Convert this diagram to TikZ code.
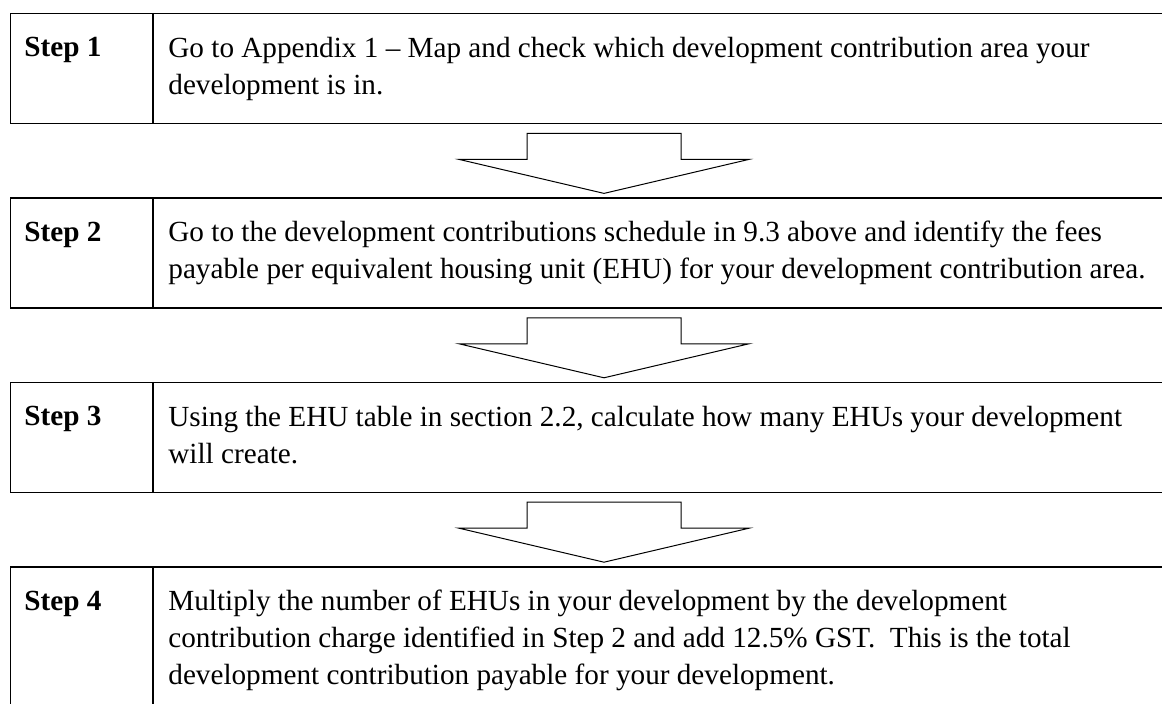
\documentclass[tikz,border=0pt]{standalone}
\usepackage{fontspec}
\setmainfont{Liberation Serif}
\usetikzlibrary{positioning}

\begin{document}
\begin{tikzpicture}[
  x=0.5pt, y=-0.5pt,
  node distance=36.5pt,
  stepbox/.style={rectangle, draw=black, line width=0.7pt, minimum width=585pt, minimum height=55pt, inner sep=0pt},
  steplabel/.style={anchor=base west, inner sep=0pt, font=\fontsize{14.6pt}{18.6pt}\selectfont\bfseries},
  steptext/.style={anchor=north west, inner sep=0pt, align=left, font=\fontsize{14.6pt}{18.6pt}\selectfont},
  blockarrow/.style={draw=black, line width=0.5pt, line join=miter}
]
\useasboundingbox (0,0) rectangle (1162,704);
\clip (0,0) rectangle (1162,704);

% frames
\node[stepbox, anchor=north west] (box1) at (10,13) {};
\node[stepbox, below=of box1] (box2) {};
\node[stepbox, below=of box2] (box3) {};
\node[stepbox, minimum height=80pt, below=of box3] (box4) {};

\foreach \i in {1,...,4} {
  \draw[line width=0.7pt] ([xshift=71.5pt]box\i.north west) -- ([xshift=71.5pt]box\i.south west);
  \node[steplabel] (lab\i) at ([shift={(14,44)}]box\i.north west) {Step \i};
}

% texts
\node[steptext] (txt1) at ([shift={(158,16)}]box1.north west)
  {\rule{0pt}{14pt}Go to Appendix 1 -- Map and check which development contribution area your\\
   development is in.};
\node[steptext] (txt2) at ([shift={(158,16)}]box2.north west)
  {\rule{0pt}{14pt}Go to the development contributions schedule in 9.3 above and identify the fees\\
   payable per equivalent housing unit (EHU) for your development contribution area.};
\node[steptext] (txt3) at ([shift={(158,16)}]box3.north west)
  {\rule{0pt}{14pt}Using the EHU table in section 2.2, calculate how many EHUs your development\\
   will create.};
\node[steptext] (txt4) at ([shift={(158,16)}]box4.north west)
  {\rule{0pt}{14pt}Multiply the number of EHUs in your development by the development\\
   contribution charge identified in Step 2 and add 12.5\% GST.\ \ This is the total\\
   development contribution payable for your development.};

% block arrows between steps
\foreach \i/\j in {1/2,2/3,3/4} {
  \draw[blockarrow] ([shift={(594,9)}]box\i.south west) ++(-77,0) -- ++(154,0) -- ++(0,26)
    -- ++(68,0) -- ++(-145,34) -- ++(-145,-34) -- ++(68,0) -- cycle;
}
\end{tikzpicture}
\end{document}
